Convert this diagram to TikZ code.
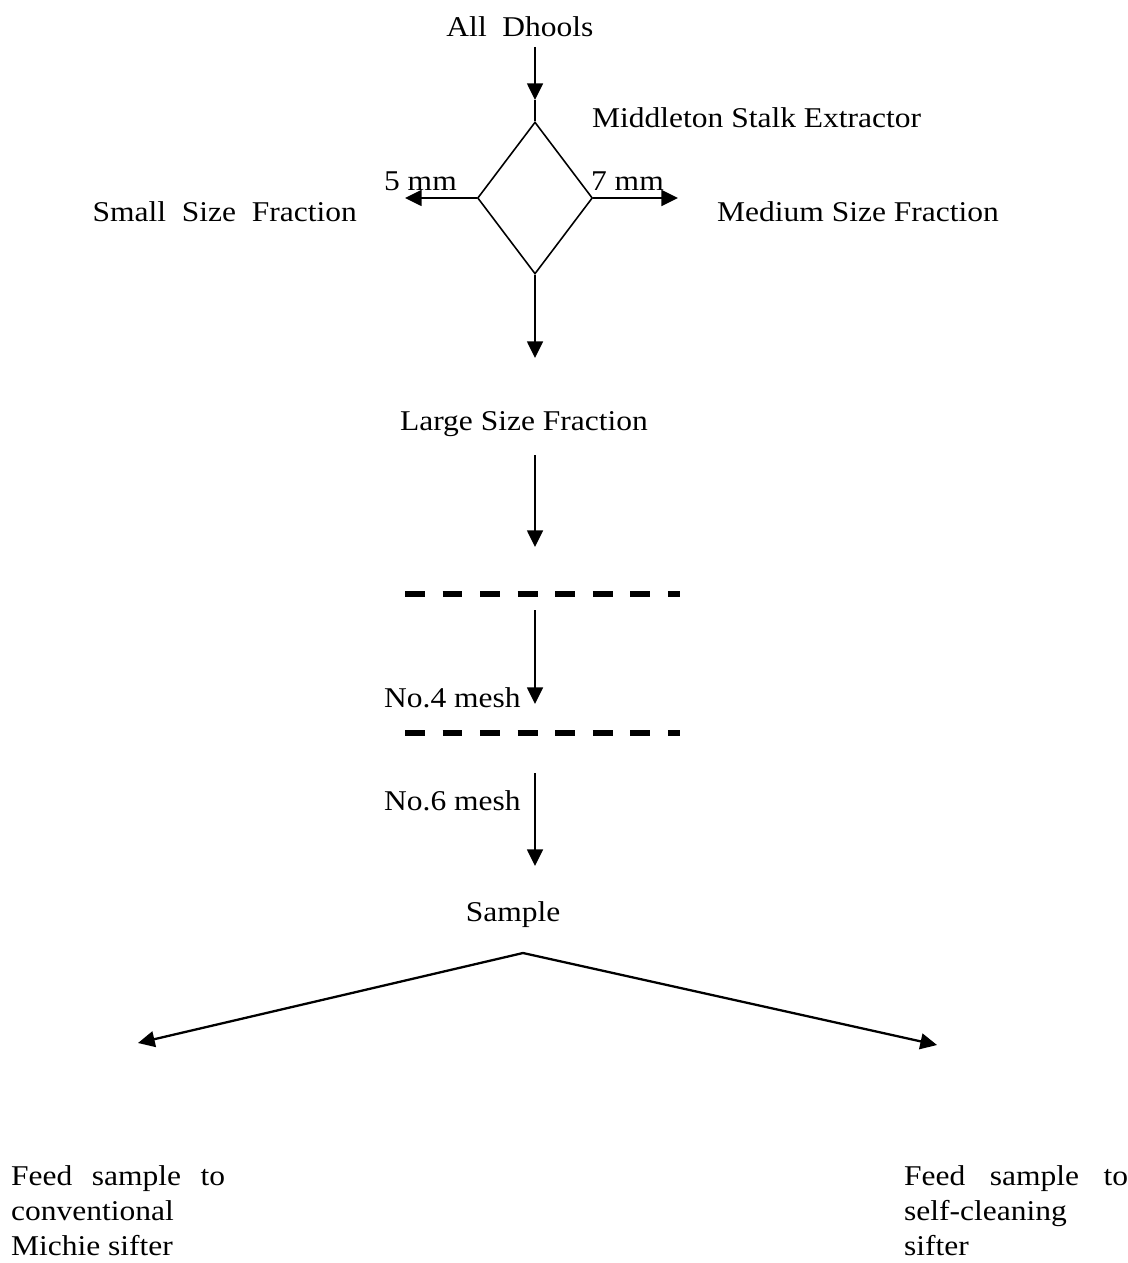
\documentclass[tikz,border=0pt]{standalone}
\usepackage{fontspec}
\setmainfont[FakeStretch=1.1]{Liberation Serif}
\usetikzlibrary{arrows.meta,shapes.geometric}

\begin{document}
\begin{tikzpicture}[x=0.02cm,y=-0.02cm,line width=1.3pt,>={Triangle[length=9.5pt,width=9pt]},
  txt/.style={inner sep=0pt,font=\fontsize{16.3}{20}\selectfont},
  mesh/.style={line width=2.9pt,dash pattern=on 11.34pt off 10.04pt}]
  \useasboundingbox (0,0) rectangle (1127,1263);
  % extractor
  \node[txt,anchor=base] (dhools) at (520,37) {All\ \ Dhools};
  \node[diamond,draw,line width=0.9pt,inner sep=0pt,minimum width=2.3cm,minimum height=3.04cm] (ext) at (535,198) {};
  \node[txt,anchor=base west] (msx) at (591,128) {Middleton Stalk Extractor};
  \coordinate (in0) at (535,47);
  \coordinate (in1) at (535,100);
  \draw[->] (in0)--(in1);
  \draw (in1)--(ext.north);
  \coordinate (sml) at (405,198);            % salida 5 mm
  \coordinate (med) at (678,198);            % salida 7 mm
  \draw[->] (ext.west)--(sml);
  \draw[->] (ext.east)--(med);
  \node[txt,anchor=base west] (five) at (383,191) {5 mm};
  \node[txt,anchor=base west] (seven) at (590,191) {7 mm};
  \node[txt,anchor=base east] (small) at (358,222) {Small\ \ Size\ \ Fraction};
  \node[txt,anchor=base west] (medium) at (716,222) {Medium Size Fraction};
  \coordinate (lrg) at (535,358);
  \draw[->] (ext.south)--(lrg);
  \node[txt,anchor=base] (large) at (524,430) {Large Size Fraction};
  % sieves
  \coordinate (s0) at (535,455); \coordinate (s1) at (535,547);
  \coordinate (s2) at (535,610); \coordinate (s3) at (535,704);
  \coordinate (s4) at (535,773); \coordinate (s5) at (535,866);
  \draw[->] (s0)--(s1);
  \draw[->] (s2)--(s3);
  \draw[->] (s4)--(s5);
  \draw[mesh] (405,594)--(680,594);
  \draw[mesh] (405,733)--(680,733);
  \node[txt,anchor=base west] (no4) at (383,707) {No.4 mesh};
  \node[txt,anchor=base west] (no6) at (383,810) {No.6 mesh};
  % sample split
  \node[txt,anchor=base] (sample) at (513,921) {Sample};
  \coordinate (apex) at (523,953);
  \coordinate (lt) at (138,1043);
  \coordinate (rt) at (937,1045);
  \draw[->] (apex)--(lt);
  \draw[->] (apex)--(rt);
  \node[txt,anchor=north west,align=left] (michie) at (10,1164)
    {\makebox[4.28cm][s]{Feed sample to}\\conventional\\Michie sifter};
  \node[txt,anchor=north west,align=left] (selfc) at (903,1164)
    {\makebox[4.48cm][s]{Feed sample to}\\self-cleaning\\sifter};
\end{tikzpicture}
\end{document}
